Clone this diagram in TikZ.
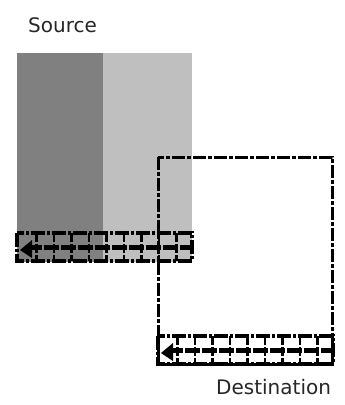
\documentclass[tikz,border=0pt]{standalone}
\usepackage{fontspec}
\setmainfont{DejaVu Sans}
\begin{document}
\begin{tikzpicture}[x=1pt,y=-1pt,
  lbl/.style={font=\fontsize{20}{23}\selectfont, text=black!85, inner sep=0pt},
  outl/.style={line width=3pt, dash pattern=on 13pt off 2pt on 4pt off 2pt},
  pics/strip/.style={code={
    \fill[black] (1,3) -- (13,-7) -- (13,11) -- cycle;
    \draw[line width=3.5pt, dash pattern=on 14pt off 2pt on 3pt off 2pt] (-2,-14) rectangle (173,14);
    \draw[line width=5pt, dash pattern=on 15pt off 2pt] (8,0) -- (173,0);
    \foreach \i in {1,...,9}{
      \draw[line width=2.5pt, dash pattern=on 9pt off 2pt] (\i*17.5,-14) -- (\i*17.5,14);
    }
  }}
]
\useasboundingbox (0,0) rectangle (345,405);
% source
\fill[fill=black!50] (17,53) rectangle (103,262);
\fill[fill=black!25] (103,53) rectangle (192,262);
\node[lbl, anchor=base west] (src) at (28,32) {Source};
\pic at (19,247) {strip};
% destination
\draw[outl] (158,157) rectangle (332,364);
\pic at (160,350) {strip};
\node[lbl, anchor=base west] (dst) at (216,394) {Destination};
\end{tikzpicture}
\end{document}
